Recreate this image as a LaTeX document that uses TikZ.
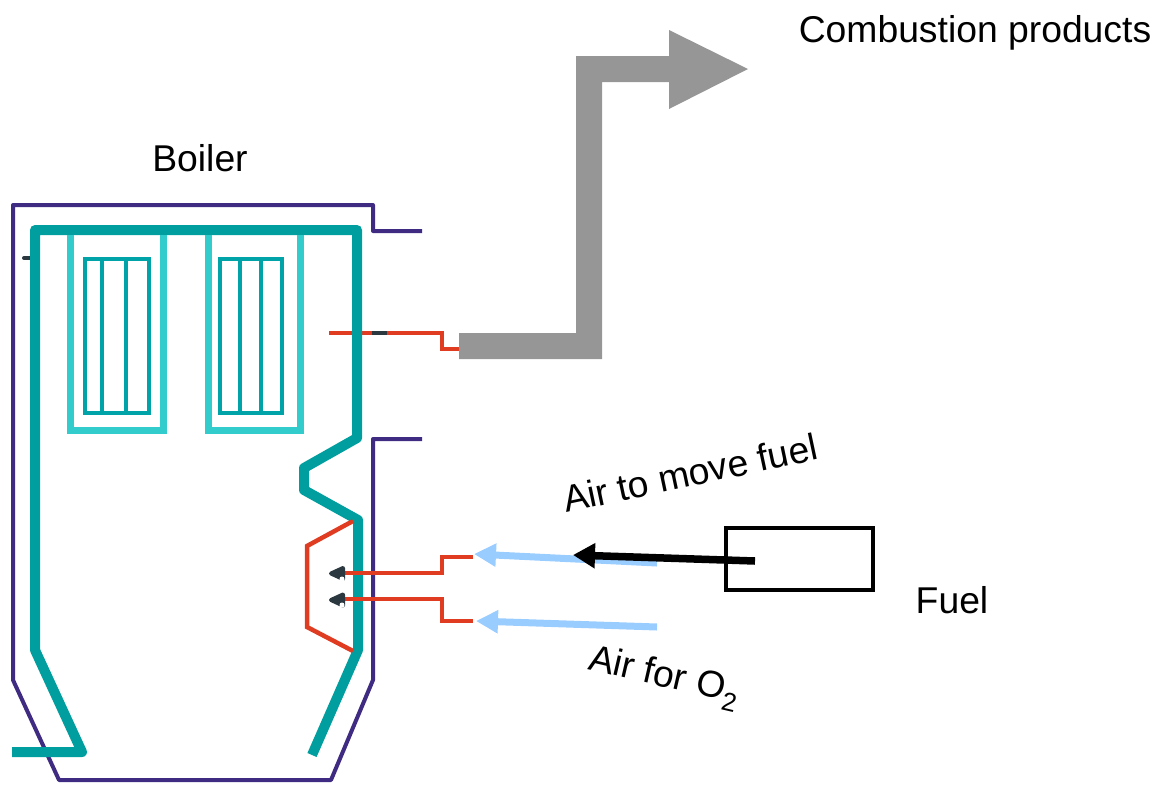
\documentclass[tikz,border=0pt]{standalone}
\usepackage{fontspec}
\setmainfont{Liberation Sans}
\usetikzlibrary{arrows.meta}
\definecolor{wallc}{HTML}{3F2C82}
\definecolor{tubec}{HTML}{009E9E}
\definecolor{lightc}{HTML}{33CCCC}
\definecolor{bankc}{HTML}{00A3A8}
\definecolor{redc}{HTML}{E03C22}
\definecolor{airc}{HTML}{99CCFF}
\definecolor{flue}{HTML}{969696}
\definecolor{darkc}{HTML}{2B3840}
\tikzset{
  wall/.style={draw=wallc,line width=4pt,line join=round},
  tube/.style={draw=tubec,line width=10pt,line join=round},
  loopt/.style={draw=lightc,line width=7pt,line join=miter},
  bank/.style={draw=bankc,line width=4.5pt},
  pipe/.style={draw=redc,line width=4.5pt,line join=miter},
  airarrow/.style={draw=airc,line width=7pt,-{Triangle[length=22pt,width=22pt]}},
  fuelarrow/.style={draw=black,line width=7.5pt,-{Triangle[length=22pt,width=24pt]}},
  label/.style={font=\fontsize{37.3}{42}\selectfont,inner sep=0pt},
  burner/.style={fill=darkc,draw=darkc,line width=4pt,line join=round},
  dot/.style={fill=white,circle,inner sep=0pt,minimum size=5pt}
}
\begin{document}
\begin{tikzpicture}[x=1pt,y=-1pt]
\useasboundingbox (0,0) rectangle (1162,785);
% outer wall
\draw[wall] (422,231) -- (373,231) -- (373,205) -- (13,205) -- (13,680) -- (59,780) -- (331,780) -- (373,680) -- (373,439) -- (422,439);
% small marks
\draw[draw=darkc,line width=4pt,line cap=round] (24,258) -- (30,258);
% red pipes behind
\draw[pipe] (329,333) -- (442,333) -- (442,349) -- (459,349);
\draw[draw=darkc,line width=4.5pt] (372,333) -- (387,333);
% main tube
\draw[tube] (12,752) -- (82,752) -- (35,650) -- (35,230) -- (357,230) -- (357,438) -- (304,468) -- (304,490) -- (358,520) -- (358,650) -- (312,755);
% loops
\draw[loopt] (70,235) -- (70,430) -- (163,430) -- (163,235);
\draw[loopt] (208,235) -- (208,430) -- (300,430) -- (300,235);
% banks
\draw[bank] (85,259) rectangle (149,413);
\draw[bank] (102,259) -- (102,413);
\draw[bank] (126,259) -- (126,413);
\draw[bank] (220,259) rectangle (282,413);
\draw[bank] (240,259) -- (240,413);
\draw[bank] (261,259) -- (261,413);
% red burner cone and feeds
\draw[pipe] (353,521) -- (307,546) -- (307,627) -- (353,651);
\draw[pipe] (344,573) -- (442,573) -- (442,557) -- (473,557);
\draw[pipe] (344,599) -- (442,599) -- (442,621) -- (473,621);
% burners
\draw[burner] (331,573.5) -- (343,568) -- (343,579) -- cycle;
\draw[burner] (331,600) -- (343,594.5) -- (343,605.5) -- cycle;
\node[dot] (d1) at (342,579) {};
\node[dot] (d2) at (342,605) {};
% flue duct
\fill[flue] (459,333) -- (576,333) -- (576,56) -- (669,56) -- (669,30) -- (748,69) -- (669,109) -- (669,82) -- (602,82) -- (602,359) -- (459,359) -- cycle;
% fuel box
\node[draw=black,line width=4pt,minimum width=147pt,minimum height=62pt,inner sep=0pt] (box) at (799.5,559) {};
% air and fuel arrows
\coordinate (a1s) at (657,563);
\coordinate (a1e) at (474,554);
\coordinate (a2s) at (657,627);
\coordinate (a2e) at (476,621);
\coordinate (fs) at (755,561);
\coordinate (fe) at (573,555);
\draw[airarrow] (a1s) -- (a1e);
\draw[airarrow] (a2s) -- (a2e);
\draw[fuelarrow] (fs) -- (fe);
% labels
\node[label] (boiler) at (200,158) {Boiler};
\node[label] (comb) at (975,33) {Combustion products};
\node[label] (fuel) at (952,600) {Fuel};
\node[label,rotate=12] (airmove) at (690,473) {Air to move fuel};
\node[label,rotate=-13] (airo) at (664,678) {Air for O\textsubscript{2}};
\end{tikzpicture}
\end{document}
